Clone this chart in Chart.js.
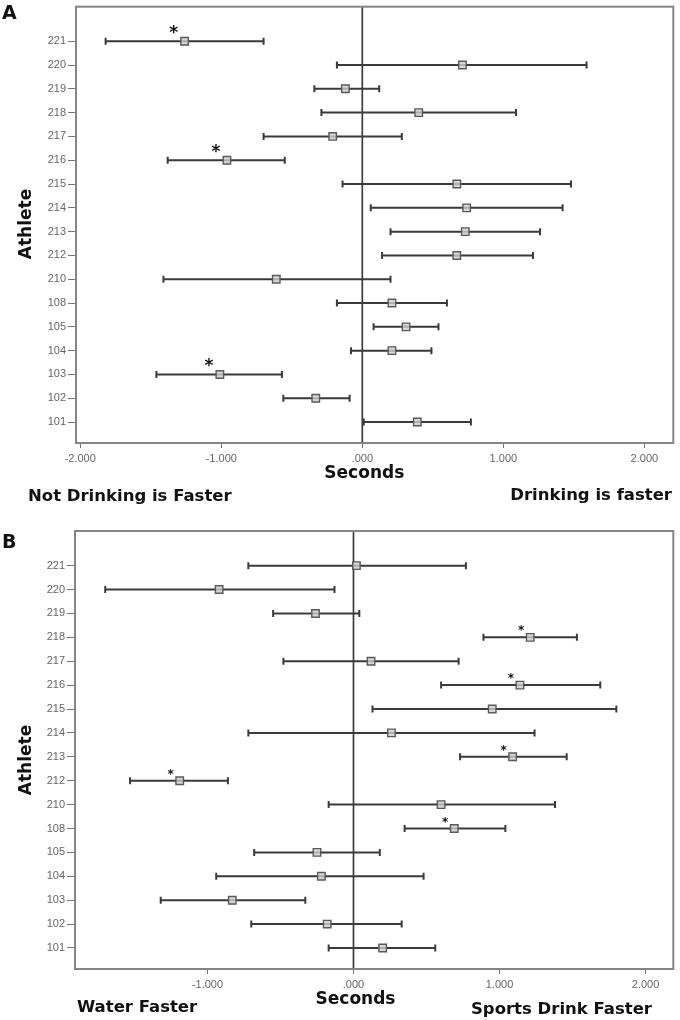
<!DOCTYPE html>
<html>
<head>
<meta charset="utf-8">
<script src="https://cdn.jsdelivr.net/npm/chart.js@4.4.0/dist/chart.umd.min.js"></script>
<style>
  html, body { margin: 0; padding: 0; background: #ffffff; }
  #wrap { position: relative; width: 680px; height: 1020px; overflow: hidden; }
  canvas { position: absolute; left: 0; }
</style>
</head>
<body>
<div id="wrap">
  <canvas id="cA" width="680" height="515" style="top:0px"></canvas>
  <canvas id="cB" width="680" height="500" style="top:520px"></canvas>
</div>
<script>
// ---------- DATA ----------
const athletes = ['221','220','219','218','217','216','215','214','213','212','210','108','105','104','103','102','101'];

// Panel A : drinking vs. not drinking (seconds)
const meanA = [-1.26, 0.71, -0.12, 0.40, -0.21, -0.96, 0.67, 0.74, 0.73, 0.67, -0.61, 0.21, 0.31, 0.21, -1.01, -0.33, 0.39];
const lowA  = [-1.82, -0.18, -0.34, -0.29, -0.70, -1.38, -0.14, 0.06, 0.20, 0.14, -1.41, -0.18, 0.08, -0.08, -1.46, -0.56, 0.01];
const highA = [-0.70, 1.59, 0.12, 1.09, 0.28, -0.55, 1.48, 1.42, 1.26, 1.21, 0.20, 0.60, 0.54, 0.49, -0.57, -0.09, 0.77];
const sigA  = ['221','216','103'];

// Panel B : sports drink vs. water (seconds)
const meanB = [0.02, -0.92, -0.26, 1.21, 0.12, 1.14, 0.95, 0.26, 1.09, -1.19, 0.60, 0.69, -0.25, -0.22, -0.83, -0.18, 0.20];
const lowB  = [-0.72, -1.70, -0.55, 0.89, -0.48, 0.60, 0.13, -0.72, 0.73, -1.53, -0.17, 0.35, -0.68, -0.94, -1.32, -0.70, -0.17];
const highB = [0.77, -0.13, 0.04, 1.53, 0.72, 1.69, 1.80, 1.24, 1.46, -0.86, 1.38, 1.04, 0.18, 0.48, -0.33, 0.33, 0.56];
const sigB  = ['218','216','213','212','108'];

const xTicksA = [-2, -1, 0, 1, 2];
const xTickLabelsA = ['-2.000', '-1.000', '.000', '1.000', '2.000'];
const xTicksB = [-1, 0, 1, 2];
const xTickLabelsB = ['-1.000', '.000', '1.000', '2.000'];

// ---------- PLUGIN ----------
const BOLD = '"DejaVu Sans", "Liberation Sans", sans-serif';
const panelPlugin = {
  id: 'panel',
  beforeDatasetsDraw(chart, args, o) {
    const { ctx, chartArea: a, scales: { x, y } } = chart;
    ctx.save();
    const zx = x.getPixelForValue(0);
    ctx.strokeStyle = '#3c3c3c';
    ctx.lineWidth = 1.7;
    ctx.beginPath(); ctx.moveTo(zx, a.top); ctx.lineTo(zx, a.bottom); ctx.stroke();
    ctx.strokeStyle = '#3a3a3a';
    ctx.lineWidth = 2;
    ctx.lineCap = 'butt';
    o.low.forEach((lo, i) => {
      const py = y.getPixelForValue(athletes.length - 1 - i);
      const x1 = x.getPixelForValue(lo);
      const x2 = x.getPixelForValue(o.high[i]);
      ctx.beginPath();
      ctx.moveTo(x1, py); ctx.lineTo(x2, py);
      ctx.moveTo(x1, py - 3.5); ctx.lineTo(x1, py + 3.5);
      ctx.moveTo(x2, py - 3.5); ctx.lineTo(x2, py + 3.5);
      ctx.stroke();
    });
    ctx.restore();
  },
  afterDraw(chart, args, o) {
    const { ctx, chartArea: a, scales: { x, y } } = chart;
    ctx.save();
    // frame
    ctx.strokeStyle = '#858585';
    ctx.lineWidth = 2;
    ctx.strokeRect(a.left, a.top, a.right - a.left, a.bottom - a.top);
    // significance stars
    ctx.fillStyle = '#111';
    ctx.textAlign = 'center';
    ctx.textBaseline = 'alphabetic';
    ctx.font = 'bold ' + o.starSize + 'px ' + BOLD;
    o.sig.forEach(s => {
      const i = athletes.indexOf(s);
      const px = x.getPixelForValue(o.mean[i]) + o.starDx;
      const py = y.getPixelForValue(athletes.length - 1 - i) + o.starDy + o.starSize * 0.59;
      ctx.fillText('*', px, py);
    });
    // texts
    ctx.fillStyle = '#111';
    o.texts.forEach(t => {
      ctx.save();
      ctx.font = 'bold ' + t.size + 'px ' + BOLD;
      ctx.textAlign = t.align || 'left';
      ctx.textBaseline = 'middle';
      const tx = t.atZero ? x.getPixelForValue(0) + t.x : t.x;
      ctx.translate(tx, t.y);
      if (t.rot) ctx.rotate(t.rot);
      ctx.fillText(t.text, 0, 0);
      ctx.restore();
    });
    ctx.restore();
  }
};

function makePanel(id, c) {
  const n = athletes.length;
  return new Chart(document.getElementById(id), {
    type: 'scatter',
    data: {
      datasets: [{
        data: c.mean.map((m, i) => ({ x: m, y: n - 1 - i })),
        pointStyle: 'rect',
        pointRadius: 5.3,
        pointHoverRadius: 5.3,
        backgroundColor: 'rgba(205,205,205,0.8)',
        borderColor: '#5a5a5a',
        borderWidth: 1.4
      }]
    },
    options: {
      responsive: false,
      animation: false,
      events: [],
      layout: { padding: { left: 0, top: c.padTop, right: c.padRight, bottom: 0 } },
      plugins: {
        legend: { display: false },
        tooltip: { enabled: false },
        panel: {
          low: c.low, high: c.high, mean: c.mean, sig: c.sig,
          starSize: c.starSize, starDx: c.starDx, starDy: c.starDy,
          texts: c.texts
        }
      },
      scales: {
        x: {
          type: 'linear',
          min: c.xMin, max: c.xMax,
          bounds: 'data',
          border: { display: false },
          grid: { display: true, drawOnChartArea: false, drawTicks: true, tickLength: 5, color: '#777', lineWidth: 1 },
          ticks: {
            padding: 4,
            color: '#666',
            font: { family: '"Liberation Sans", Arial, sans-serif', size: 11 },
            maxRotation: 0,
            callback: (v) => c.xTickLabels[c.xTicks.indexOf(v)]
          },
          afterBuildTicks: (s) => { s.ticks = c.xTicks.map(v => ({ value: v })); },
          afterFit: (s) => { s.height = c.xHeight; s.paddingLeft = 0; s.paddingRight = 0; }
        },
        y: {
          type: 'linear',
          min: -0.88, max: 17.45,
          bounds: 'data',
          border: { display: false },
          grid: { display: true, drawOnChartArea: false, drawTicks: true, tickLength: 8, color: '#777', lineWidth: 1 },
          ticks: {
            padding: 2,
            color: '#666',
            font: { family: '"Liberation Sans", Arial, sans-serif', size: 11 },
            callback: (v) => athletes[n - 1 - v]
          },
          afterBuildTicks: (s) => { s.ticks = athletes.map((_, i) => ({ value: i })); },
          afterFit: (s) => { s.width = c.yWidth; s.paddingTop = 0; s.paddingBottom = 0; }
        }
      }
    },
    plugins: [panelPlugin]
  });
}

makePanel('cA', {
  mean: meanA, low: lowA, high: highA, sig: sigA,
  xMin: -2.03, xMax: 2.205, xTicks: xTicksA, xTickLabels: xTickLabelsA,
  padTop: 3, padRight: 5, yWidth: 76, xHeight: 72,
  starSize: 17, starDx: -11, starDy: -13,
  texts: [
    { text: 'A', x: 2, y: 14, size: 19 },
    { text: 'Athlete', x: 27, y: 224, size: 17, align: 'center', rot: -Math.PI / 2 },
    { text: 'Seconds', x: 2, y: 474, size: 17, align: 'center', atZero: true },
    { text: 'Not Drinking is Faster', x: 28, y: 497, size: 16.5 },
    { text: 'Drinking is faster', x: 672, y: 496, size: 16.5, align: 'right' }
  ]
});

makePanel('cB', {
  mean: meanB, low: lowB, high: highB, sig: sigB,
  xMin: -1.907, xMax: 2.19, xTicks: xTicksB, xTickLabels: xTickLabelsB,
  padTop: 11, padRight: 5, yWidth: 75, xHeight: 51,
  starSize: 12, starDx: -9, starDy: -10,
  texts: [
    { text: 'B', x: 2, y: 23, size: 19 },
    { text: 'Athlete', x: 27, y: 240, size: 17, align: 'center', rot: -Math.PI / 2 },
    { text: 'Seconds', x: 2, y: 480, size: 17, align: 'center', atZero: true },
    { text: 'Water Faster', x: 77, y: 488, size: 16.5 },
    { text: 'Sports Drink Faster', x: 652, y: 490, size: 16.5, align: 'right' }
  ]
});
</script>
</body>
</html>
